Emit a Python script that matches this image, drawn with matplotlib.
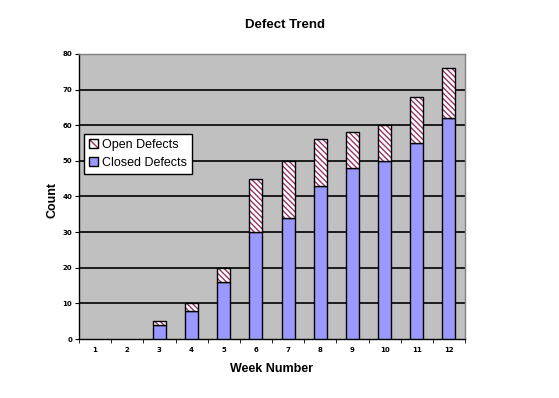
import numpy as np
import matplotlib
matplotlib.use("Agg")
import matplotlib.pyplot as plt
from matplotlib.patches import Patch
from matplotlib.legend_handler import HandlerTuple

weeks = [1, 2, 3, 4, 5, 6, 7, 8, 9, 10, 11, 12]
closed = [0, 0, 4, 8, 16, 30, 34, 43, 48, 50, 55, 62]
open_ = [0, 0, 1, 2, 4, 15, 16, 13, 10, 10, 13, 14]
yticks = [0, 10, 20, 30, 40, 50, 60, 70, 80]

plt.rcParams['hatch.linewidth'] = 1.0

fig = plt.figure(figsize=(5.59, 3.98), dpi=100)
ax = fig.add_axes([79/559, 1-339/398, 386/559, 285/398])
ax.set_facecolor('#C0C0C0')

x = np.array(weeks)
lw_c = [1 if v > 0 else 0 for v in closed]
lw_o = [1 if v > 0 else 0 for v in open_]
hatch = '\\\\\\\\\\\\'

ax.bar(x, closed, width=0.4, color='#9999FF', edgecolor='black', linewidth=lw_c,
       zorder=3)
# hatch drawn in the hatch colour, outline drawn on top in black
ax.bar(x, open_, width=0.4, bottom=closed, color='white', edgecolor='#993366',
       linewidth=0, hatch=hatch, zorder=3)
ax.bar(x, open_, width=0.4, bottom=closed, fill=False, edgecolor='black',
       linewidth=lw_o, zorder=4)

ax.set_xlim(0.5, 12.5)
ax.set_ylim(0, 80)
ax.set_yticks(yticks)
ax.set_yticklabels([str(v) for v in yticks], fontsize=5, fontweight='bold')
ax.set_xticks(x)
ax.set_xticklabels([str(w) for w in weeks], fontsize=5, fontweight='bold')
ax.tick_params(axis='x', length=0, pad=6)
ax.set_xticks(np.arange(0.5, 13, 1), minor=True)
ax.tick_params(axis='x', which='minor', length=3, direction='out')
ax.tick_params(axis='y', length=3, direction='out', pad=2)

for v in yticks[1:-1]:
    ax.axhline(v, color='black', linewidth=1.2, zorder=1)

ax.spines['top'].set_color('#808080')
ax.spines['right'].set_color('#808080')
for s in ax.spines.values():
    s.set_linewidth(1)

fig.text(0.51, 1-25/398, 'Defect Trend', ha='center', va='center',
         fontsize=9.5, fontweight='bold', family='Liberation Sans')
fig.text(272/559, 1-369/398, 'Week Number', ha='center', va='center',
         fontsize=9, fontweight='bold', family='Liberation Sans')
fig.text(53/559, 1-200/398, 'Count', ha='center', va='center', rotation=90,
         fontsize=9, fontweight='bold', family='Liberation Sans')

open_h = (Patch(facecolor='white', edgecolor='#993366', hatch='\\\\\\\\', linewidth=0),
          Patch(fill=False, edgecolor='black', linewidth=1))
closed_h = Patch(facecolor='#9999FF', edgecolor='black', linewidth=1)
leg = fig.legend([open_h, closed_h], ['Open Defects', 'Closed Defects'],
                 handler_map={tuple: HandlerTuple(ndivide=1)},
                 loc='upper left', bbox_to_anchor=(84/559, 1-134/398),
                 fancybox=False, framealpha=1, edgecolor='black',
                 prop={'family': 'Liberation Sans', 'size': 9},
                 handlelength=0.7, handleheight=0.7, handletextpad=0.3,
                 borderpad=0.4, labelspacing=0.45, borderaxespad=0)
leg.get_frame().set_linewidth(1)

fig.savefig('out.png', dpi=100)
